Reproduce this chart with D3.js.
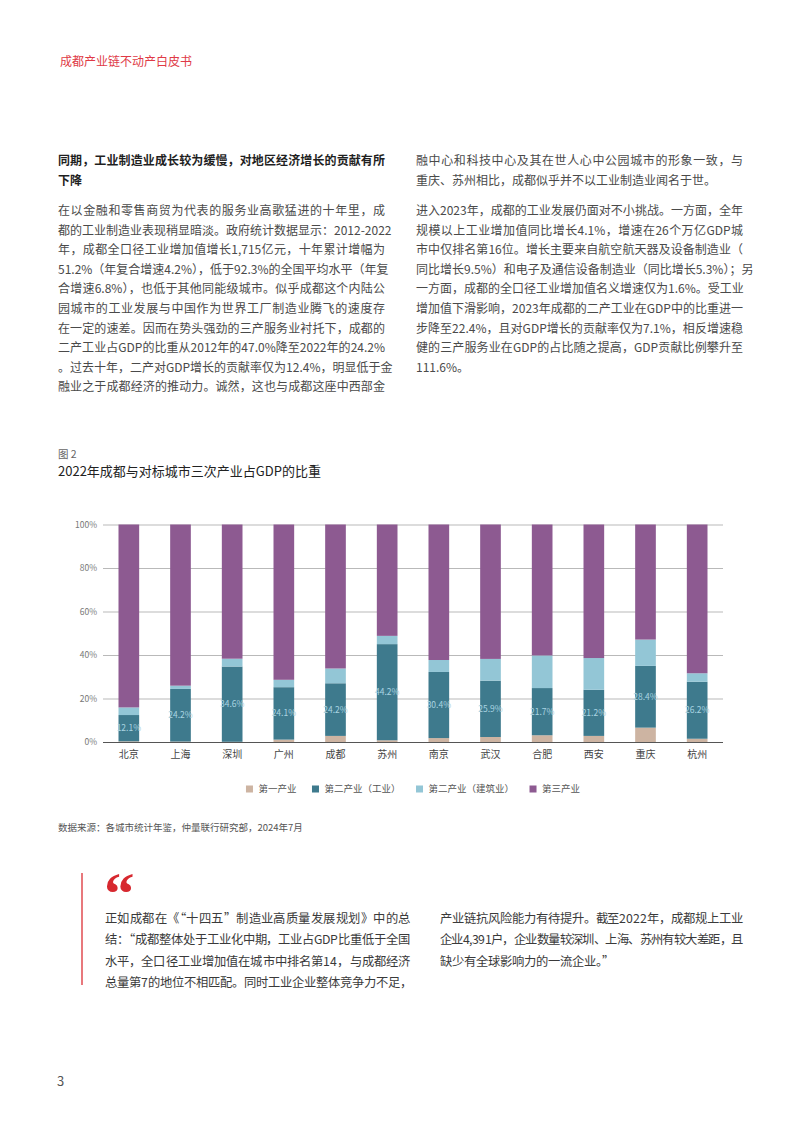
<!DOCTYPE html>
<html><head><meta charset="utf-8">
<script src="https://cdn.jsdelivr.net/npm/d3@7"></script>
<style>
@font-face{font-family:"QM";src:local("Liberation Serif Bold"),local("LiberationSerif-Bold");font-weight:700;ascent-override:72%;descent-override:0%;line-gap-override:0%;}
@font-face{font-family:"QT";src:local("Noto Sans CJK SC"),local("Noto Sans CJK SC Regular"),local("NotoSansCJKsc-Regular");ascent-override:62%;descent-override:20%;line-gap-override:0%;}
html,body{margin:0;padding:0;background:#fff;}
body{width:802px;height:1133px;position:relative;overflow:hidden;font-family:"Noto Sans CJK SC","Noto Sans",sans-serif;}
.ln{position:absolute;white-space:nowrap;text-align:justify;text-align-last:justify;}
.ln.last{text-align-last:left;}
</style></head><body>
<svg id="chart" width="802" height="1133" style="position:absolute;left:0;top:0"></svg>
<div id="text"></div>
<script>
// ---------- data ----------
const cities = ["北京","上海","深圳","广州","成都","苏州","南京","武汉","合肥","西安","重庆","杭州"];
const primary      = [0.3, 0.2, 0.1, 1.1, 2.8, 0.8, 1.8, 2.3, 3.1, 2.8, 6.6, 1.5];
const industry     = [12.1,24.2,34.6,24.1,24.2,44.2,30.4,25.9,21.7,21.2,28.4,26.2];
const construction = [3.5, 1.5, 3.6, 3.4, 6.8, 3.8, 5.5, 10.0,15.0,14.6,12.1,3.9];
const tertiary     = [84.1,74.1,61.7,71.4,66.2,51.2,62.3,61.8,60.2,61.4,52.9,68.4];
const seriesNames  = ["第一产业","第二产业（工业）","第二产业（建筑业）","第三产业"];
const yTickValues  = [0,20,40,60,80,100];
const yTickLabels  = ["0%","20%","40%","60%","80%","100%"];

const colors = ["#cdb4a2","#3e7a8d","#93c6d6","#8d5a91"];
const keys = ["primary","industry","construction","tertiary"];

// ---------- page text ----------
const textBox = d3.select("#text");
function line(txt, x, yc, w, opts){
  const o = Object.assign({size:12, lh:20, color:"#4a4a4a", weight:400, last:false}, opts||{});
  textBox.append("div").attr("class","ln"+(o.last?" last":""))
    .style("left",x+"px").style("top",(yc-o.lh/2)+"px").style("width",w+"px")
    .style("line-height",o.lh+"px").style("font-size",o.size+"px")
    .style("color",o.color).style("font-weight",o.weight).text(txt);
}
line("成都产业链不动产白皮书",60,61,200,{size:12,color:"#e03a46",last:true});

const headL = ["同期，工业制造业成长较为缓慢，对地区经济增长的贡献有所","下降"];
headL.forEach((t,i)=>line(t,58,160+i*19.5,327,{weight:700,color:"#1f1f1f",last:i===headL.length-1}));
const paraL = [
"在以金融和零售商贸为代表的服务业高歌猛进的十年里，成",
"都的工业制造业表现稍显暗淡。政府统计数据显示：2012-2022",
"年，成都全口径工业增加值增长1,715亿元，十年累计增幅为",
"51.2%（年复合增速4.2%），低于92.3%的全国平均水平（年复",
"合增速6.8%），也低于其他同能级城市。似乎成都这个内陆公",
"园城市的工业发展与中国作为世界工厂制造业腾飞的速度存",
"在一定的速差。因而在势头强劲的三产服务业衬托下，成都的",
"二产工业占GDP的比重从2012年的47.0%降至2022年的24.2%",
"。过去十年，二产对GDP增长的贡献率仅为12.4%，明显低于金",
"融业之于成都经济的推动力。诚然，这也与成都这座中西部金"];
paraL.forEach((t,i)=>line(t,58,210+i*19.6,327));
const paraR1 = ["融中心和科技中心及其在世人心中公园城市的形象一致，与","重庆、苏州相比，成都似乎并不以工业制造业闻名于世。"];
paraR1.forEach((t,i)=>line(t,416,160+i*19.5,327,{last:i===paraR1.length-1}));
const paraR2 = [
"进入2023年，成都的工业发展仍面对不小挑战。一方面，全年",
"规模以上工业增加值同比增长4.1%，增速在26个万亿GDP城",
"市中仅排名第16位。增长主要来自航空航天器及设备制造业（",
"同比增长9.5%）和电子及通信设备制造业（同比增长5.3%）；另",
"一方面，成都的全口径工业增加值名义增速仅为1.6%。受工业",
"增加值下滑影响，2023年成都的二产工业在GDP中的比重进一",
"步降至22.4%，且对GDP增长的贡献率仅为7.1%，相反增速稳",
"健的三产服务业在GDP的占比随之提高，GDP贡献比例攀升至",
"111.6%。"];
paraR2.forEach((t,i)=>line(t,416,210+i*19.6,327,{last:i===paraR2.length-1}));

line("图 2",58,454,100,{size:10.5,color:"#666",last:true});
line("2022年成都与对标城市三次产业占GDP的比重",58,471,400,{size:13,color:"#222",last:true});
line("数据来源：各城市统计年鉴，仲量联行研究部，2024年7月",58,827,400,{size:9.5,color:"#555",last:true});
line("3",57,1081,30,{size:13,color:"#555",last:true});

// ---------- chart ----------
const svg = d3.select("#chart");
const rows = cities.map((c,i)=>({city:c, primary:primary[i], industry:industry[i], construction:construction[i], tertiary:tertiary[i]}));
const x = d3.scaleBand().domain(cities).range([103,723]).paddingInner(0.6).paddingOuter(0.3);
const y = d3.scaleLinear().domain([0,100]).range([742,524.5]);

const yAxis = svg.append("g").attr("transform","translate(103,0)")
  .call(d3.axisLeft(y).tickValues(yTickValues).tickFormat((d,i)=>yTickLabels[i]).tickSize(-620).tickPadding(6));
yAxis.select(".domain").remove();
yAxis.selectAll(".tick line").attr("stroke",d=>d===0?"#555":"#b9b9b9").attr("stroke-width",d=>d===0?1.2:1);
yAxis.selectAll(".tick text").attr("fill","#777").style("font-size","8.5px").style("font-family","'Noto Sans CJK SC',sans-serif");

const stack = d3.stack().keys(keys)(rows);
svg.append("g").selectAll("g").data(stack).join("g").attr("fill",(d,i)=>colors[i])
  .selectAll("rect").data(d=>d).join("rect")
  .attr("x",d=>x(d.data.city)).attr("width",x.bandwidth())
  .attr("y",d=>y(d[1])).attr("height",d=>y(d[0])-y(d[1]));

// industry labels
svg.append("g").selectAll("text").data(stack[1]).join("text")
  .attr("x",d=>x(d.data.city)+x.bandwidth()/2).attr("y",d=>(y(d[0])+y(d[1]))/2)
  .attr("dy","0.35em").attr("text-anchor","middle").attr("fill","#a9d4e1")
  .style("font-size","8.5px").style("font-family","'Noto Sans CJK SC',sans-serif")
  .text(d=>d.data.industry.toFixed(1)+"%");

const xAxis = svg.append("g").attr("transform","translate(0,742)")
  .call(d3.axisBottom(x).tickSize(0).tickPadding(0));
xAxis.select(".domain").remove();
xAxis.selectAll(".tick text").attr("y",12.5).attr("dy","0.35em").attr("fill","#444")
  .style("font-size","10px").style("font-family","'Noto Sans CJK SC',sans-serif");

// legend
const leg = svg.append("g").attr("transform","translate(0,789)");
const items = leg.selectAll("g").data(seriesNames).join("g");
items.append("rect").attr("width",7).attr("height",7).attr("y",-3.5).attr("fill",(d,i)=>colors[i]);
items.append("text").attr("x",12.5).attr("dy","0.35em").attr("fill","#555")
  .style("font-size","9.5px").style("font-family","'Noto Sans CJK SC',sans-serif").text(d=>d);
let cx = 0; const offs = [];
items.each(function(){ offs.push(cx); cx += 12.5 + this.querySelector("text").getComputedTextLength() + 15.5; });
const total = cx - 15.5;
const start = (103+723)/2 - total/2;
items.attr("transform",(d,i)=>`translate(${start+offs[i]},0)`);

// ---------- quote block ----------
const quoteL = [
"正如成都在《“十四五”制造业高质量发展规划》中的总",
"结：“成都整体处于工业化中期，工业占GDP比重低于全国",
"水平，全口径工业增加值在城市中排名第14，与成都经济",
"总量第7的地位不相匹配。同时工业企业整体竞争力不足，"];
const quoteR = [
"产业链抗风险能力有待提升。截至2022年，成都规上工业",
"企业4,391户，企业数量较深圳、上海、苏州有较大差距，且",
"缺少有全球影响力的一流企业。”"];
const qg = svg.append("g").style("font-family","QT,'Noto Sans CJK SC',sans-serif").style("font-size","12.3px").attr("fill","#3a3a3a");
function qlines(arr, x0, w){
  arr.forEach((t,i)=>{
    const tx = qg.append("text").attr("x",x0).attr("y",918+4.7+i*21.4).text(t);
    if(i<arr.length-1) tx.attr("textLength",w).attr("lengthAdjust","spacing");
  });
}
qlines(quoteL,105,305);
qlines(quoteR,440,303);

svg.append("line").attr("x1",82).attr("x2",82).attr("y1",873).attr("y2",985).attr("stroke","#e04b50").attr("stroke-width",1.5);
svg.append("text").attr("x",104).attr("y",915).attr("fill","#d7282f")
  .style("font-family","QM,'Liberation Serif',serif").style("font-weight",700).style("font-size","61px").text("“");
</script>
</body></html>
